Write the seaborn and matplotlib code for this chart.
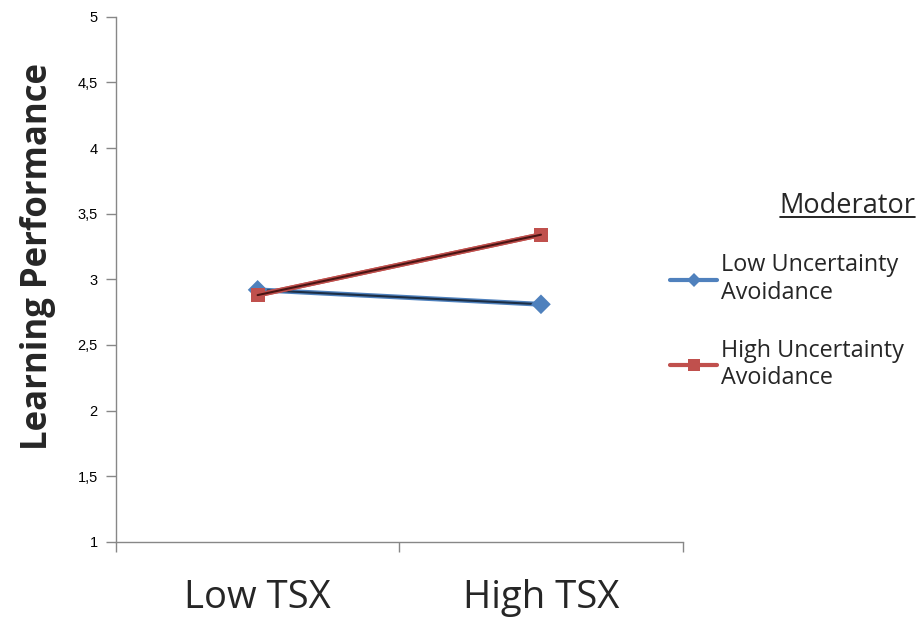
import pandas as pd
import matplotlib.pyplot as plt
import matplotlib.patheffects as pe
from matplotlib.lines import Line2D
import seaborn as sns

# values
conditions = ['Low TSX', 'High TSX']
low_ua = [2.92, 2.81]
high_ua = [2.88, 3.34]
series_names = ['Low Uncertainty\nAvoidance', 'High Uncertainty\nAvoidance']
y_ticks = [1, 1.5, 2, 2.5, 3, 3.5, 4, 4.5, 5]
y_tick_labels = ['1', '1,5', '2', '2,5', '3', '3,5', '4', '4,5', '5']

df = pd.DataFrame({
    'TSX': conditions * 2,
    'perf': low_ua + high_ua,
    'group': [series_names[0]] * 2 + [series_names[1]] * 2,
})

fill_cols = {series_names[0]: '#4F81BD', series_names[1]: '#C0504D'}
core_cols = {series_names[0]: '#1C2E45', series_names[1]: '#4A1514'}
marker_map = {series_names[0]: 'D', series_names[1]: 's'}

sns.set_style('white')
plt.rcParams['font.family'] = ['Open Sans', 'DejaVu Sans']

fig = plt.figure(figsize=(9.2, 6.18), dpi=100)
ax = fig.add_axes([0.126, 0.123, 0.616, 0.85])

# lines: dark core with coloured glow, like the original excel shading
sns.lineplot(data=df, x='TSX', y='perf', hue='group', palette=core_cols,
             lw=1.5, sort=False, legend=False, ax=ax)
for line, name in zip(ax.lines, series_names):
    line.set_path_effects([pe.Stroke(linewidth=3.5, foreground=fill_cols[name]), pe.Normal()])

# markers on top
sns.scatterplot(data=df, x='TSX', y='perf', hue='group', style='group',
                palette=fill_cols, markers=marker_map, s=100, linewidth=0,
                legend=False, ax=ax, zorder=3)
# redraw the red line over its markers
sub = df[df.group == series_names[1]]
l2, = ax.plot(sub.TSX, sub.perf, color=core_cols[series_names[1]], lw=1.5, zorder=4)
l2.set_path_effects([pe.Stroke(linewidth=3.5, foreground=fill_cols[series_names[1]]), pe.Normal()])

ax.set_xlim(-0.5, 1.5)
ax.set_ylim(1, 5)
ax.set_yticks(y_ticks)
ax.set_yticklabels(y_tick_labels, fontsize=10.5, family='Liberation Sans', color='black')
ax.set_xticks([0, 1])
ax.set_xticklabels(conditions, fontsize=27.5)
ax.set_xticks([-0.5, 0.5, 1.5], minor=True)
ax.tick_params(axis='x', which='major', length=0, pad=27)
ax.tick_params(axis='x', which='minor', length=7, color='#878787', width=1, direction='out', bottom=True)
ax.tick_params(axis='y', length=7, color='#878787', width=1, direction='out', left=True, pad=6)
ax.set_xlabel('')
ax.set_ylabel('Learning Performance', fontsize=25, fontweight='bold')
ax.yaxis.set_label_coords(-0.105, 0.543)

sns.despine(ax=ax)
for side in ['left', 'bottom']:
    ax.spines[side].set_color('#878787')
    ax.spines[side].set_linewidth(1)

# legend
handles = []
for name in series_names:
    h = Line2D([0], [0], color=fill_cols[name], lw=3, marker=marker_map[name],
               markersize=7 if marker_map[name] == 'D' else 9, markeredgewidth=0)
    handles.append(h)
leg = fig.legend(handles, series_names, loc='upper left', bbox_to_anchor=(0.716, 0.609),
                 frameon=False, fontsize=16.8, handlelength=2.0, handletextpad=0.15,
                 labelspacing=1.45, borderpad=0)
fig.text(0.995, 0.655, 'Moderator', fontsize=19.5, ha='right', va='baseline')
fig.add_artist(Line2D([0.848, 0.995], [0.649, 0.649], color='black', lw=1.2,
                      transform=fig.transFigure))

fig.savefig('out.png', dpi=100)
